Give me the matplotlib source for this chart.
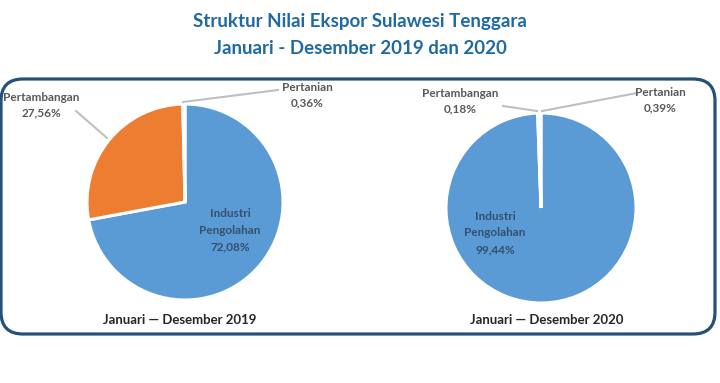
import matplotlib.pyplot as plt
from matplotlib.patches import FancyBboxPatch

# data
sectors = ["Industri\nPengolahan", "Pertambangan", "Pertanian"]
share_2019 = [72.08, 27.56, 0.36]
share_2020 = [99.44, 0.18, 0.39]
period_2019 = "Januari \u2014 Desember 2019"
period_2020 = "Januari \u2014 Desember 2020"
colors = ["#5b9bd5", "#ed7d31", "#a5a5a5"]

plt.rcParams["font.family"] = ["Lato", "DejaVu Sans"]

W, H = 720, 383
fig = plt.figure(figsize=(W / 100, H / 100), dpi=100)
ax = fig.add_axes([0, 0, 1, 1])


def fmt(v):
    return ("%.2f%%" % v).replace(".", ",")


def draw_pie(values, cx, cy, r):
    ax.pie(values, colors=colors, startangle=90, counterclock=False,
           center=(cx, H - cy), radius=r,
           wedgeprops=dict(edgecolor="white", linewidth=2.2))


draw_pie(share_2019, 185, 202, 98)
draw_pie(share_2020, 541, 208, 95)

ax.set_xlim(0, W)
ax.set_ylim(0, H)
ax.set_aspect("auto")
ax.axis("off")

# rounded frame
box = FancyBboxPatch((1, H - 334), 714, 255,
                     boxstyle="round,pad=0,rounding_size=22",
                     fill=False, edgecolor="#24507c", linewidth=2.3)
ax.add_patch(box)

# titles
ax.text(360, H - 22, "Struktur Nilai Ekspor Sulawesi Tenggara", ha="center", va="center",
        fontsize=13.5, color="#1f6aa5", fontweight="bold")
ax.text(360, H - 48, "Januari - Desember 2019 dan 2020", ha="center", va="center",
        fontsize=13.5, color="#1f6aa5", fontweight="bold")

lab_col = "#595959"
in_col = "#34506e"
line_col = "#bfbfbf"

# 2019 labels
ax.text(230, H - 230, sectors[0] + "\n" + fmt(share_2019[0]), ha="center", va="center",
        fontsize=8.5, color=in_col, fontweight="bold", linespacing=1.6)
ax.text(41, H - 105, sectors[1] + "\n" + fmt(share_2019[1]), ha="center", va="center",
        fontsize=8.5, color=lab_col, fontweight="bold", linespacing=1.5)
ax.plot([76, 107], [H - 111, H - 138], color=line_col, lw=1.5)
ax.text(307, H - 95, sectors[2] + "\n" + fmt(share_2019[2]), ha="center", va="center",
        fontsize=8.5, color=lab_col, fontweight="bold", linespacing=1.5)
ax.plot([183, 278], [H - 102, H - 90], color=line_col, lw=1.5)

# 2020 labels
ax.text(495, H - 233, sectors[0] + "\n" + fmt(share_2020[0]), ha="center", va="center",
        fontsize=8.5, color=in_col, fontweight="bold", linespacing=1.6)
ax.text(460, H - 101, sectors[1] + "\n" + fmt(share_2020[1]), ha="center", va="center",
        fontsize=8.5, color=lab_col, fontweight="bold", linespacing=1.5)
ax.plot([503, 537], [H - 106, H - 111], color=line_col, lw=1.5)
ax.text(660, H - 100, sectors[2] + "\n" + fmt(share_2020[2]), ha="center", va="center",
        fontsize=8.5, color=lab_col, fontweight="bold", linespacing=1.5)
ax.plot([542, 637], [H - 111, H - 93], color=line_col, lw=1.5)

ax.text(180, H - 320, period_2019, ha="center", va="center", fontsize=9.5,
        fontweight="bold", color="#262626")
ax.text(547, H - 320, period_2020, ha="center", va="center", fontsize=9.5,
        fontweight="bold", color="#262626")

fig.savefig("out.png", dpi=100)
